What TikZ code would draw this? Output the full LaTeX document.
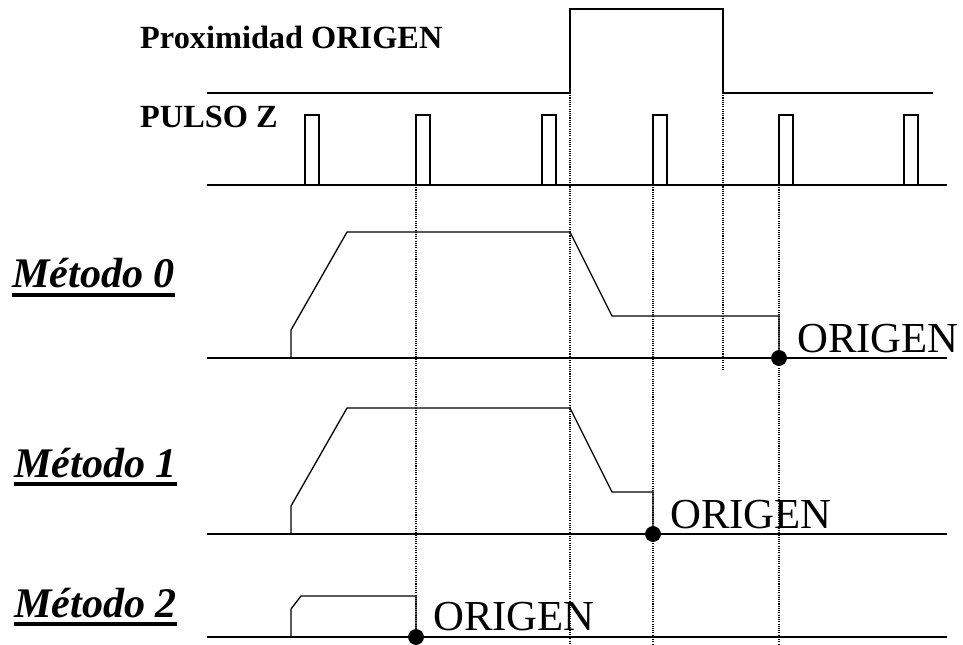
\documentclass[tikz,border=0pt]{standalone}
\usepackage{fontspec}
\setmainfont{Liberation Serif}
\usepackage{tikz}

\tikzset{
	signal/.style={line width=1.1pt},
	guide/.style={densely dotted, line width=0.9pt},
	uline/.style={line width=2.6pt},
	title/.style={font=\fontsize{27.6}{30}\selectfont\bfseries, anchor=base west, inner sep=0pt},
	method/.style={font=\fontsize{36}{40}\selectfont\bfseries\itshape, anchor=base west, inner sep=0pt},
	origin/.style={font=\fontsize{36.5}{40}\selectfont, anchor=base west, inner sep=0pt},
}

\begin{document}
\begin{tikzpicture}[x=0.03cm,y=-0.03cm]
	\useasboundingbox (0,0) rectangle (963,644);
	%\draw[help lines] (0,0) grid[step=50] (963,644);
	% dotted guides
	\draw[guide] (416,185)--(416,644);
	\draw[guide] (570,93)--(570,644);
	\draw[guide] (653,185)--(653,644);
	\draw[guide] (723,93)--(723,370);
	\draw[guide] (779,185)--(779,644);
	% Proximidad ORIGEN
	\draw (140,48) node[title] (prox) {Proximidad ORIGEN};
	\draw[signal] (207,93)--(570,93)--(570,9)--(723,9)--(723,93)--(933,93);
	% PULSO Z
	\draw (140,127) node[title] (pulso) {PULSO Z};
	\draw[signal] (207,185)--(947,185);
	\foreach \x in {305,416,542,653,779,904}
		\draw[signal] (\x,185)--(\x,115)--(\x+14,115)--(\x+14,185);
	% Metodo 0
	\draw (12,287) node[method] (met0) {Método 0};
	\draw[uline] (12,295)--(175,295);
	\draw[signal] (207,358)--(947,358);
	\draw[signal] (291,358)--(291,330)--(347,232)--(570,232)--(612,316)--(779,316)--(779,358);
	\filldraw (779,358)[fill=black] circle (6.5pt);
	\draw (797,352) node[origin] (orig0) {ORIGEN};
	% Metodo 1
	\draw (14,477) node[method] (met1) {Método 1};
	\draw[uline] (14,484)--(177,484);
	\draw[signal] (207,534)--(947,534);
	\draw[signal] (291,534)--(291,506)--(347,408)--(570,408)--(612,492)--(653,492)--(653,534);
	\filldraw (653,534)[fill=black] circle (6.5pt);
	\draw (670,528) node[origin] (orig1) {ORIGEN};
	% Metodo 2
	\draw (14,617) node[method] (met2) {Método 2};
	\draw[uline] (14,624)--(177,624);
	\draw[signal] (207,637)--(947,637);
	\draw[signal] (291,637)--(291,609)--(301,596)--(416,596)--(416,637);
	\filldraw (416,637)[fill=black] circle (6.5pt);
	\draw (433,630) node[origin] (orig2) {ORIGEN};
\end{tikzpicture}
\end{document}
